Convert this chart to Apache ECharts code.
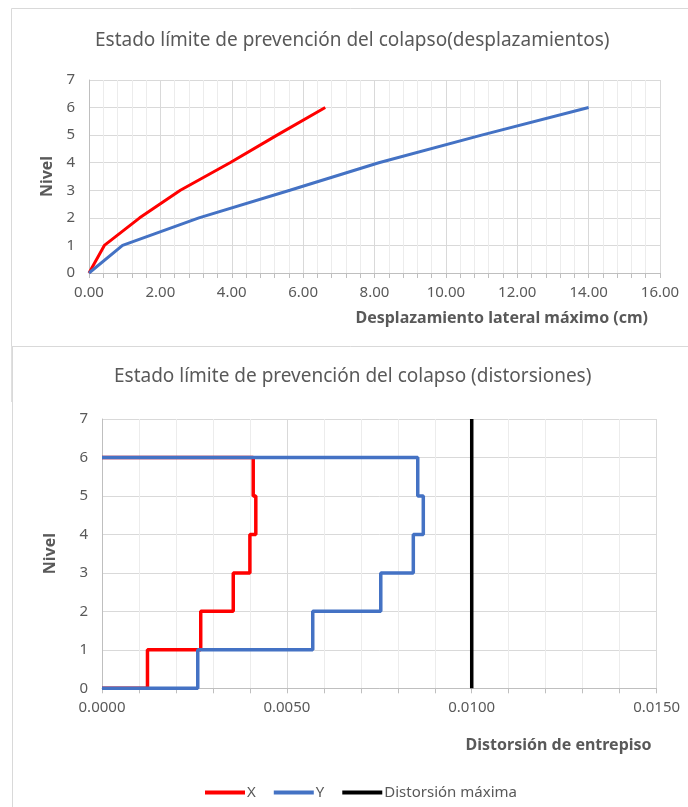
<!DOCTYPE html>
<html>
<head>
<meta charset="utf-8">
<script src="https://cdn.jsdelivr.net/npm/echarts@6/dist/echarts.min.js"></script>
<style>
html,body{margin:0;padding:0;background:#fff;}
#main{width:688px;height:807px;}
</style>
</head>
<body>
<div id="main"></div>
<script>
// ---- Data ----
const levels = [0, 1, 2, 3, 4, 5, 6];
const despX = [0, 0.43, 1.42, 2.56, 3.95, 5.27, 6.62];
const despY = [0, 0.94, 3.08, 5.63, 8.12, 11.0, 14.0];
const distLevels = [1, 2, 3, 4, 5, 6];
const distX = [0.00123, 0.00267, 0.00355, 0.00400, 0.00416, 0.00409];
const distY = [0.00259, 0.00570, 0.00754, 0.00842, 0.00869, 0.00854];
const distMax = 0.0100;
const topTicksX = [0, 16, 2];
const botTicksX = [0, 0.015, 0.005];

const labelColor = '#595959';
const font = 'Noto Sans';

function pairs(xs, ys) { return xs.map((x, i) => [x, ys[i]]); }
// build step outline: storey i spans from level i-1 to level i at distortion d
function steps(ds, lv) {
  const pts = [[0, 0]];
  let prev = 0;
  ds.forEach((d, i) => {
    pts.push([d, prev]);
    pts.push([d, lv[i]]);
    prev = lv[i];
  });
  pts.push([0, prev]);
  return pts;
}

const chart = echarts.init(document.getElementById('main'), null, {renderer: 'canvas'});

function xAxisCommon(range, name, gridIndex, dec, nameGap, padTop) {
  return {
    type: 'value', gridIndex: gridIndex,
    min: range[0], max: range[1], interval: range[2],
    name: name, nameLocation: 'end', nameGap: nameGap,
    nameTextStyle: {color: labelColor, fontFamily: font, fontWeight: 'bold', fontSize: 16,
      align: 'right', verticalAlign: 'top', padding: [padTop, 0, 0, 0]},
    axisLine: {show: true, lineStyle: {color: '#bfbfbf', width: 1}},
    axisTick: {show: true, length: 5, lineStyle: {color: '#bfbfbf'}},
    minorTick: {show: true, splitNumber: 5, length: 5, lineStyle: {color: '#bfbfbf'}},
    splitLine: {show: true, lineStyle: {color: '#d9d9d9', width: 1}},
    minorSplitLine: {show: true, lineStyle: {color: '#ececec', width: 1}},
    axisLabel: {color: labelColor, fontFamily: font, fontSize: 15, margin: 12,
      formatter: v => v.toFixed(dec)}
  };
}
function yAxisCommon(gridIndex, nameGap) {
  return {
    type: 'value', gridIndex: gridIndex, min: 0, max: 7, interval: 1,
    name: 'Nivel', nameLocation: 'middle', nameGap: nameGap,
    nameTextStyle: {color: labelColor, fontFamily: font, fontWeight: 'bold', fontSize: 16},
    axisLine: {show: true, lineStyle: {color: '#bfbfbf', width: 1}},
    axisTick: {show: false},
    splitLine: {show: true, lineStyle: {color: '#d9d9d9', width: 1}},
    axisLabel: {color: labelColor, fontFamily: font, fontSize: 15, margin: 14}
  };
}

const option = {
  backgroundColor: '#ffffff',
  animation: false,
  title: [
    {text: 'Estado límite de prevención del colapso(desplazamientos)', left: 95, top: 31, padding: 0,
      textStyle: {color: labelColor, fontFamily: font, fontWeight: 'normal', fontSize: 19}},
    {text: 'Estado límite de prevención del colapso (distorsiones)', left: 114, top: 367, padding: 0,
      textStyle: {color: labelColor, fontFamily: font, fontWeight: 'normal', fontSize: 19}}
  ],
  graphic: [
    {type: 'rect', shape: {x: 11.5, y: 8.5, width: 700, height: 338}, style: {fill: 'none', stroke: '#d9d9d9', lineWidth: 1}, silent: true},
    {type: 'line', shape: {x1: 11.5, y1: 346, x2: 11.5, y2: 402}, style: {stroke: '#e0e0e0', lineWidth: 1}, silent: true},
    {type: 'line', shape: {x1: 12.5, y1: 347, x2: 12.5, y2: 807}, style: {stroke: '#d9d9d9', lineWidth: 1}, silent: true}
  ],
  grid: [
    {left: 89, top: 80, width: 571, height: 193},
    {left: 102, top: 419, width: 554.6, height: 269.3}
  ],
  xAxis: [
    xAxisCommon(topTicksX, 'Desplazamiento lateral máximo (cm)', 0, 2, -12, 37),
    xAxisCommon(botTicksX, 'Distorsión de entrepiso', 1, 4, -5, 49)
  ],
  yAxis: [yAxisCommon(0, 30), yAxisCommon(1, 44)],
  legend: {
    data: ['X', 'Y', 'Distorsión máxima'],
    left: 200, top: 780,
    icon: 'rect', itemWidth: 40, itemHeight: 4, itemGap: 18,
    textStyle: {color: labelColor, fontFamily: font, fontSize: 15, padding: [0, 0, 0, -3]}
  },
  series: [
    {name: 'Desp X', type: 'line', xAxisIndex: 0, yAxisIndex: 0, data: pairs(despX, levels),
      showSymbol: false, symbol: 'none', lineStyle: {color: '#ff0000', width: 3}, itemStyle: {color: '#ff0000'}},
    {name: 'Desp Y', type: 'line', xAxisIndex: 0, yAxisIndex: 0, data: pairs(despY, levels),
      showSymbol: false, symbol: 'none', lineStyle: {color: '#4472c4', width: 3}, itemStyle: {color: '#4472c4'}},
    {name: 'X', type: 'line', xAxisIndex: 1, yAxisIndex: 1, data: steps(distX, distLevels),
      showSymbol: false, symbol: 'none', lineStyle: {color: '#ff0000', width: 3.5}, itemStyle: {color: '#ff0000'}},
    {name: 'Y', type: 'line', xAxisIndex: 1, yAxisIndex: 1, data: steps(distY, distLevels),
      showSymbol: false, symbol: 'none', lineStyle: {color: '#4472c4', width: 3.5}, itemStyle: {color: '#4472c4'}},
    {name: 'Distorsión máxima', type: 'line', xAxisIndex: 1, yAxisIndex: 1, data: [[distMax, 0], [distMax, 7]],
      showSymbol: false, symbol: 'none', lineStyle: {color: '#000000', width: 3.5}, itemStyle: {color: '#000000'}}
  ]
};
chart.setOption(option);
</script>
</body>
</html>
